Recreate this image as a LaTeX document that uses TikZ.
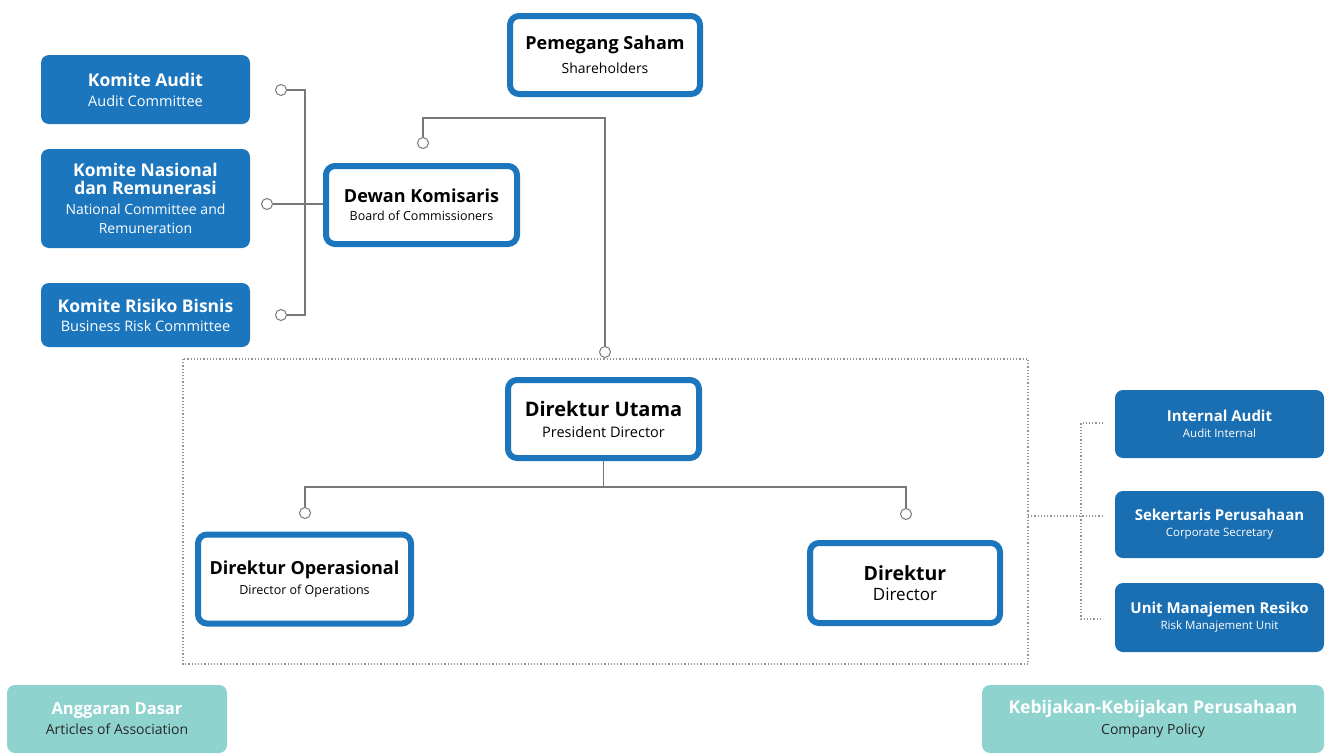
\documentclass[tikz,border=0pt]{standalone}
\usepackage{fontspec}
\setmainfont{Open Sans}
\definecolor{bblue}{RGB}{28,118,190}
\definecolor{dblue}{RGB}{26,110,178}
\definecolor{teal1}{RGB}{143,211,207}
\definecolor{lgray}{RGB}{120,120,120}
\newcommand{\fs}[1]{\fontsize{#1}{#1}\selectfont}
\begin{document}
\begin{tikzpicture}[x=1pt,y=-1pt,
  lead/.style={font=\fontsize{10}{#1}\selectfont},
  wbox/.style={draw=bblue, line width=6pt, fill=white, rounded corners=9pt, align=center, inner sep=0pt, text=black},
  bbox/.style={fill=bblue, rounded corners=8pt, align=center, inner sep=0pt, text=white},
  rbox/.style={fill=dblue, rounded corners=8pt, align=center, inner sep=0pt, text=white},
  tbox/.style={fill=teal1, rounded corners=8pt, align=center, inner sep=0pt},
  dot/.style={circle, draw=lgray, line width=1pt, fill=white, minimum size=11pt, inner sep=0pt},
  conn/.style={draw=lgray, line width=1.3pt},
  dconn/.style={draw=lgray!80, line width=1.2pt, dotted},
]
\useasboundingbox (0,0) rectangle (1341,755);

% dotted management frame
\draw[dconn] (183,359) rectangle (1028,664);
\coordinate (frR) at (1028,516);

% Shareholders
\node[wbox, lead=24pt, minimum width=190pt, minimum height=78pt] (pem) at (605,55)
  {{\fs{18}\bfseries Pemegang Saham}\\{\fs{14}Shareholders}};

% Board of Commissioners
\node[wbox, lead=18pt, minimum width=191pt, minimum height=78pt] (dew) at (421.5,205)
  {{\fs{18}\bfseries Dewan Komisaris}\\{\fs{12.5}Board of Commissioners}};

% Committees
\node[bbox, lead=20pt, minimum width=209pt, minimum height=69pt] (ka) at (145.5,89.5)
  {{\fs{17.5}\bfseries Komite Audit}\\{\fs{14.5}Audit Committee}};
\node[bbox, lead=17.5pt, minimum width=209pt, minimum height=99pt] (kn) at (145.5,198.5)
  {{\fs{17.5}\bfseries Komite Nasional}\\{\fs{17.5}\bfseries dan Remunerasi}\\[3pt]{\fs{14}National Committee and}\\[1pt]{\fs{14}Remuneration}};
\node[bbox, lead=19pt, minimum width=209pt, minimum height=64pt] (kr) at (145.5,315)
  {{\fs{17.5}\bfseries Komite Risiko Bisnis}\\{\fs{14.5}Business Risk Committee}};

\node[dot] (cka) at (281,90) {};
\node[dot] (ckn) at (267,204) {};
\node[dot] (ckr) at (281,315) {};
\coordinate (b1) at (305,90);
\coordinate (b2) at (305,315);
\draw[conn] (cka) -- (b1) -- (b2) -- (ckr);
\draw[conn] (ckn) -- (ckn -| dew.west);

% Shareholders line
\node[dot] (cdw) at (423,143) {};
\node[dot] (cdu) at (605,352) {};
\coordinate (s1) at (423,118);
\coordinate (s2) at (605,118);
\draw[conn] (cdw) -- (s1) -- (s2) -- (cdu);

% Directors
\node[wbox, lead=21pt, minimum width=191pt, minimum height=78pt] (du) at (603.5,419)
  {{\fs{20}\bfseries Direktur Utama}\\{\fs{14.5}President Director}};
\node[wbox, lead=20pt, minimum width=213pt, minimum height=89pt] (dop) at (304.5,579)
  {{\fs{18}\bfseries Direktur Operasional}\\{\fs{12.5}Director of Operations}};
\node[wbox, lead=20pt, minimum width=190pt, minimum height=80pt] (dir) at (905,583)
  {{\fs{19.5}\bfseries Direktur}\\{\fs{17}Director}};

\coordinate (h0) at (du.south |- 0,487);
\coordinate (hl) at (305,487);
\coordinate (hr) at (906,487);
\node[dot] (cdo) at (305,513) {};
\node[dot] (cdr) at (906,514) {};
\draw[conn] (du.south) -- (h0);
\draw[conn] (cdo) -- (hl) -- (hr) -- (cdr);

% Right side units
\node[rbox, lead=16pt, minimum width=209pt, minimum height=68pt] (ia) at (1219.5,424)
  {{\fs{15}\bfseries Internal Audit}\\{\fs{11.5}Audit Internal}};
\node[rbox, lead=16pt, minimum width=209pt, minimum height=67pt] (sp) at (1219.5,524.5)
  {{\fs{15}\bfseries Sekertaris Perusahaan}\\{\fs{11.5}Corporate Secretary}};
\node[rbox, lead=16pt, minimum width=209pt, minimum height=69pt] (um) at (1219.5,617.5)
  {{\fs{15}\bfseries Unit Manajemen Resiko}\\{\fs{11.5}Risk Manajement Unit}};

\coordinate (v0) at (1081,516);
\coordinate (vt) at (1081,423);
\coordinate (vb) at (1081,619);
\coordinate (st) at (1103,423);
\coordinate (sm) at (1103,516);
\coordinate (sb) at (1103,619);
\draw[dconn] (frR) -- (v0) -- (sm);
\draw[dconn] (st) -- (vt) -- (vb) -- (sb);

% Bottom documents
\node[tbox, lead=20pt, minimum width=220pt, minimum height=68pt] (ad) at (117,719)
  {{\fs{16.5}\bfseries\color{white} Anggaran Dasar}\\{\fs{14}\color{black!85} Articles of Association}};
\node[tbox, lead=21pt, minimum width=342pt, minimum height=68pt] (kp) at (1153,719)
  {{\fs{17.5}\bfseries\color{white} Kebijakan-Kebijakan Perusahaan}\\{\fs{14}\color{black!85} Company Policy}};
\end{tikzpicture}
\end{document}
